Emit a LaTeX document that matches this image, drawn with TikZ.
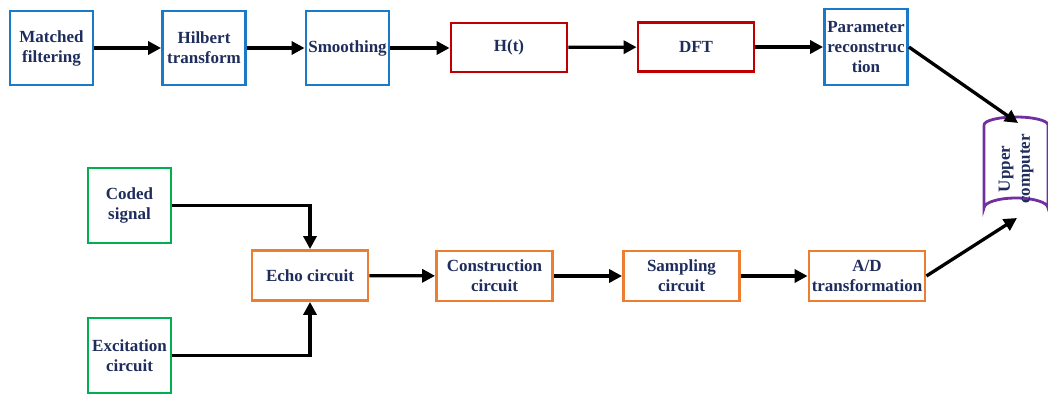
\documentclass[tikz,border=0pt]{standalone}
\usepackage{fontspec}
\setmainfont{Liberation Serif}
\usetikzlibrary{arrows.meta}
\definecolor{txt}{HTML}{1F2D5C}
\definecolor{cblue}{HTML}{1A7AC8}
\definecolor{cred}{HTML}{C00000}
\definecolor{cgreen}{HTML}{00B050}
\definecolor{corange}{HTML}{ED7D31}
\definecolor{cpurple}{HTML}{7030A0}
\begin{document}
\begin{tikzpicture}[x=1pt,y=-1pt,
  bx/.style={draw, line width=2.8pt, fill=white, align=center, text=txt,
    font=\bfseries\fontsize{17}{20}\selectfont, inner sep=0pt},
  blu/.style={bx, draw=cblue, minimum width=83, minimum height=74},
  rd/.style={bx, draw=cred, minimum width=116, minimum height=49},
  grn/.style={bx, draw=cgreen, minimum width=83, minimum height=75},
  org/.style={bx, draw=corange, minimum width=116, minimum height=50},
  arr/.style={line width=3.3pt, -{Triangle[length=13pt,width=13pt]}}]
\useasboundingbox (0,0) rectangle (1048,395);
% top row
\node[blu] (mf) at (51.5,48) {Matched\\filtering};
\node[blu] (hil) at (204,48) {Hilbert\\transform};
\node[blu] (smo) at (347.5,48) {Smoothing};
\node[rd] (ht) at (509,47.5) {H(t)};
\node[rd] (dft) at (696,47) {DFT};
\node[blu, minimum height=76] (par) at (866,47) {Parameter\\reconstruc\\tion};
% cylinder
\coordinate (cyltop) at (1018,123);
\coordinate (cylbot) at (1017,218);
\draw[cpurple, line width=2.8pt, fill=white]
  (984,125) -- (984,208) arc[start angle=180, end angle=360, x radius=32, y radius=10]
  -- (1048,125) arc[start angle=0, end angle=-180, x radius=32, y radius=8]
  arc[start angle=180, end angle=360, x radius=32, y radius=8];
\node[rotate=90, align=center, text=txt, font=\bfseries\fontsize{17}{20}\selectfont, inner sep=0pt] (upc) at (1016,169) {Upper\\computer};
% bottom
\node[grn] (cod) at (129.5,205.5) {Coded\\signal};
\node[grn] (exc) at (129.5,355.5) {Excitation\\circuit};
\node[org] (echo) at (310,275.5) {Echo circuit};
\node[org] (con) at (494.5,276) {Construction\\circuit};
\node[org] (sam) at (681.5,276) {Sampling\\circuit};
\node[org] (ad) at (867,276) {A/D\\transformation};
% arrows
\draw[arr] (mf) -- (hil);
\draw[arr] (hil) -- (smo);
\draw[arr] (smo.east) -- (smo.east -| ht.west);
\draw[arr] (ht) -- (dft);
\draw[arr] (dft) -- (par);
\draw[arr] (par.east) -- (cyltop);
\draw[arr] (cod.east) -| (echo.north);
\draw[arr] (exc.east) -| (echo.south);
\draw[arr] (echo) -- (con);
\draw[arr] (con) -- (sam);
\draw[arr] (sam) -- (ad);
\draw[arr] (ad.east) -- (cylbot);
\end{tikzpicture}
\end{document}
